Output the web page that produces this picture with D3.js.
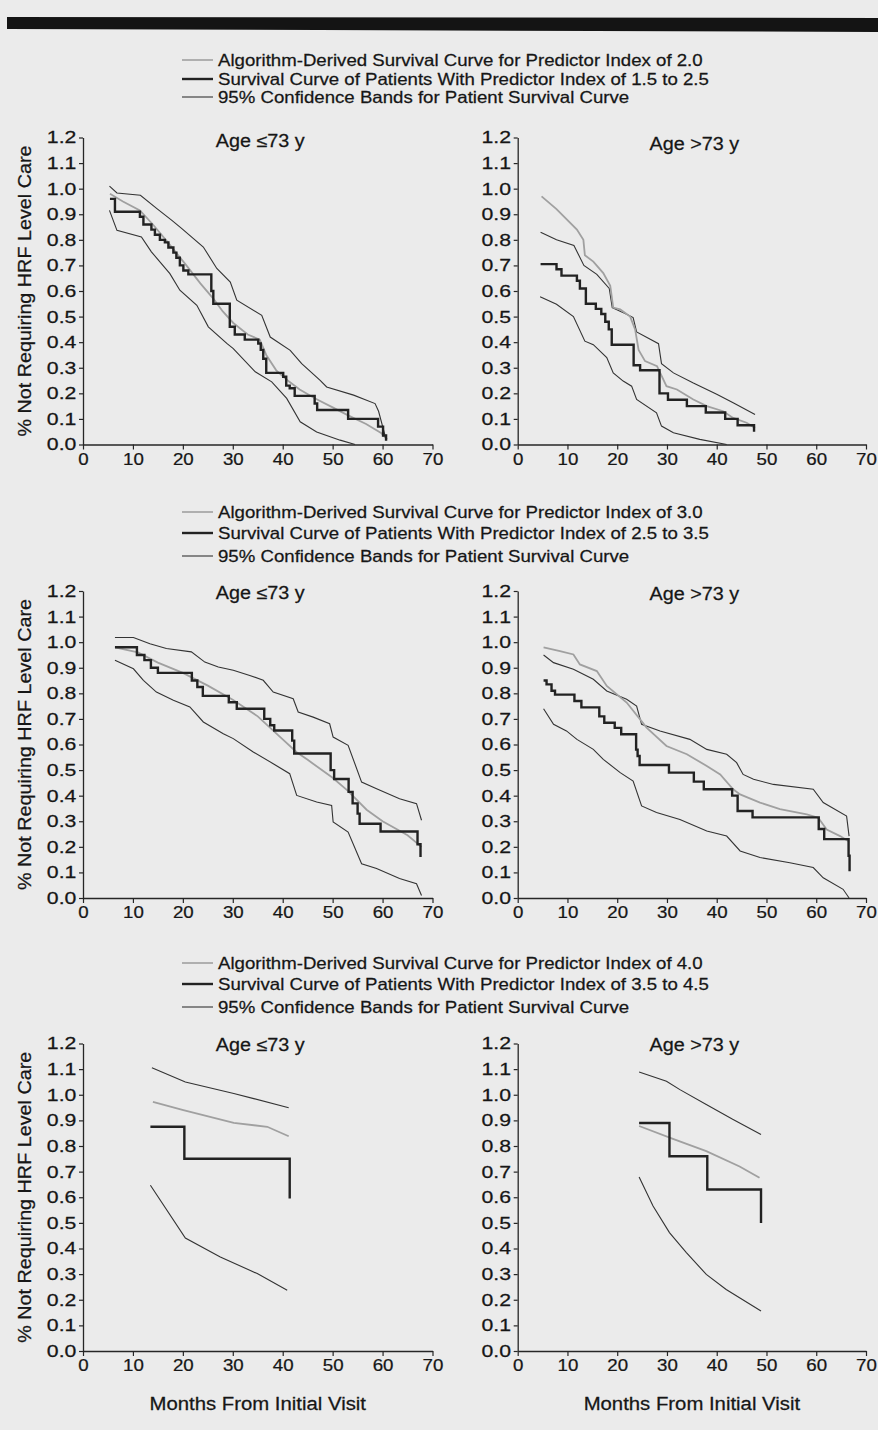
<!DOCTYPE html>
<html>
<head>
<meta charset="utf-8">
<script src="https://cdn.jsdelivr.net/npm/d3@7/dist/d3.min.js"></script>
<style>
  body { margin: 0; background: #ebebeb; }
  svg { display: block; }
  text { font-family: "Liberation Sans", Arial, Helvetica, sans-serif; fill: #161616; stroke: #161616; stroke-width: 0.25px; }
</style>
</head>
<body>
<script>
// ---- data: [months, fraction not requiring HRF care] ----
var xTicks = [0, 10, 20, 30, 40, 50, 60, 70];
var yTicks = [0, 0.1, 0.2, 0.3, 0.4, 0.5, 0.6, 0.7, 0.8, 0.9, 1.0, 1.1, 1.2];
var ageGroups = ['Age \u226473 y', 'Age >73 y'];
var predictorIndex = ['2.0', '3.0', '4.0'];
var predictorRange = ['1.5 to 2.5', '2.5 to 3.5', '3.5 to 4.5'];

// index 2.0, age <=73
var alg20Young = [[5.4,0.98],[8,0.95],[11.4,0.915],[14,0.86],[17,0.79],[20.7,0.70],[23.5,0.63],[26.1,0.57],[28,0.52],[30.1,0.475],[33,0.43],[35.4,0.41],[36.7,0.35],[38.7,0.29],[41,0.25],[43.4,0.215],[46.5,0.18],[50,0.145],[53,0.115],[56.7,0.08],[59.7,0.045],[60.9,0.02]];
var km20Young = [[5.4,0.96],[6.4,0.91],[11.4,0.89],[12.1,0.86],[13.7,0.84],[14.4,0.82],[15.4,0.80],[16.4,0.79],[17.1,0.77],[18.1,0.75],[18.7,0.73],[19.4,0.70],[20.1,0.68],[21.1,0.665],[25.7,0.60],[26.1,0.55],[29.4,0.46],[30.4,0.43],[32.4,0.41],[35.1,0.395],[35.6,0.37],[36.1,0.335],[36.7,0.28],[40.1,0.265],[40.7,0.23],[41.4,0.22],[42.4,0.19],[46.4,0.16],[46.9,0.135],[53.1,0.10],[59.1,0.07],[60.1,0.035],[60.7,0.015]];
var hi20Young = [[5.3,1.01],[6.8,0.983],[11.5,0.974],[14.8,0.922],[17.8,0.876],[19.8,0.844],[24.1,0.772],[26.8,0.688],[29.5,0.635],[30.8,0.564],[35.8,0.505],[37.5,0.42],[41.5,0.368],[43.8,0.316],[47.5,0.251],[48.8,0.225],[54.2,0.193],[58.5,0.16],[59.2,0.13],[60.7,0.02]];
var lo20Young = [[5.3,0.915],[6.8,0.837],[11.7,0.811],[13.7,0.753],[17.4,0.668],[19.4,0.603],[22.8,0.544],[25.1,0.46],[28.8,0.395],[30.1,0.375],[34.5,0.284],[37.8,0.245],[40.8,0.18],[43.5,0.089],[46.8,0.049],[51.5,0.017],[54.5,0]];

// index 2.0, age >73
var alg20Old = [[4.8,0.97],[7.8,0.92],[11.9,0.84],[13.2,0.80],[13.5,0.74],[15.2,0.715],[17.2,0.67],[18.6,0.62],[19.2,0.535],[20.6,0.528],[22.6,0.50],[23.6,0.45],[24.3,0.37],[25.6,0.326],[28,0.306],[29.9,0.228],[32,0.215],[35.3,0.176],[38,0.15],[41.3,0.13],[43.3,0.104],[46,0.085],[47.7,0.065]];
var km20Old = [[4.6,0.705],[7.8,0.685],[8.8,0.66],[11.9,0.64],[12.5,0.61],[13.7,0.55],[15.7,0.53],[16.8,0.51],[17.6,0.48],[18.3,0.45],[18.9,0.39],[23.3,0.31],[24.6,0.29],[28.5,0.20],[30.2,0.175],[34,0.15],[37.8,0.125],[41.7,0.10],[44.2,0.075],[47.5,0.05]];
var hi20Old = [[4.6,0.83],[7.8,0.80],[11.3,0.778],[13.3,0.70],[15.9,0.665],[18.4,0.61],[19,0.535],[21.9,0.509],[23.2,0.496],[23.9,0.44],[28.3,0.394],[28.9,0.316],[31.3,0.28],[35.3,0.24],[40,0.196],[43.3,0.163],[47.7,0.117]];
var lo20Old = [[4.5,0.578],[7.8,0.548],[11.2,0.50],[13.5,0.404],[15.2,0.39],[17.9,0.34],[19.2,0.28],[21.2,0.248],[22.9,0.228],[23.9,0.176],[27.9,0.124],[28.9,0.072],[31.3,0.046],[36.6,0.02],[42,0]];

// index 3.0, age <=73
var alg30Young = [[6.4,0.98],[11,0.96],[15,0.92],[20,0.88],[25,0.83],[30,0.775],[35,0.71],[40,0.62],[42.8,0.57],[45,0.54],[50,0.47],[53,0.42],[56.8,0.345],[60,0.30],[65,0.245],[67.8,0.20]];
var km30Young = [[6.4,0.98],[10.8,0.95],[12.3,0.93],[13.6,0.90],[15,0.88],[21.8,0.85],[22.9,0.825],[24,0.79],[29.2,0.765],[30.8,0.74],[36.3,0.70],[37.5,0.675],[38.3,0.655],[41.9,0.615],[42.3,0.565],[49.6,0.50],[50.3,0.465],[53.2,0.415],[54,0.37],[55,0.33],[55.4,0.29],[59.6,0.26],[67,0.21],[67.6,0.16]];
var hi30Young = [[6.4,1.018],[10.1,1.018],[13.4,0.994],[16.7,0.975],[21.7,0.962],[24.4,0.922],[27.1,0.903],[30.1,0.89],[33.4,0.87],[36.1,0.851],[38.1,0.805],[42.1,0.779],[43.1,0.727],[46.1,0.707],[49.4,0.681],[50.1,0.629],[53.1,0.597],[55.8,0.453],[58.8,0.427],[63.4,0.388],[66.8,0.369],[67.8,0.304]];
var lo30Young = [[6.4,0.929],[10.1,0.896],[12.1,0.851],[14.7,0.805],[18.1,0.773],[21.4,0.747],[24.1,0.688],[28.1,0.642],[30.1,0.623],[34.1,0.571],[38.1,0.525],[41.4,0.486],[42.8,0.401],[46.8,0.375],[49.8,0.362],[50.1,0.297],[53.1,0.258],[55.8,0.134],[58.8,0.115],[63.4,0.076],[66.8,0.056],[67.8,0.01]];

// index 3.0, age >73
var alg30Old = [[5.2,0.98],[8.5,0.965],[11.2,0.952],[12.5,0.913],[15.9,0.887],[17.9,0.829],[21.9,0.764],[24.6,0.698],[25.9,0.666],[29.9,0.594],[34,0.562],[38,0.516],[40.7,0.483],[43.3,0.425],[44.7,0.405],[48.7,0.373],[52.7,0.347],[58.1,0.327],[60.4,0.314],[62.1,0.268],[64.8,0.242],[66.4,0.223]];
var km30Old = [[5.2,0.85],[5.8,0.835],[6.8,0.81],[7.5,0.795],[11.4,0.77],[12.8,0.745],[16.4,0.71],[17.4,0.685],[19.5,0.665],[20.8,0.64],[23.8,0.58],[24.1,0.555],[24.5,0.52],[30.4,0.49],[35.4,0.455],[37.4,0.425],[43.1,0.40],[44.2,0.34],[47.2,0.315],[60.5,0.27],[61.6,0.23],[66.5,0.165],[66.7,0.105]];
var hi30Old = [[5.2,0.95],[7.2,0.92],[11.2,0.894],[15.2,0.855],[17.9,0.809],[21.9,0.777],[23.9,0.75],[24.9,0.679],[28.6,0.653],[34.6,0.62],[38,0.581],[42,0.562],[44,0.529],[45.3,0.483],[47.4,0.464],[51.4,0.444],[59.4,0.425],[61.4,0.373],[66.1,0.32],[66.6,0.242]];
var lo30Old = [[5.2,0.74],[7.2,0.679],[9.8,0.653],[11.9,0.62],[15.2,0.581],[17.2,0.542],[20.6,0.49],[23.2,0.457],[24.9,0.36],[27.9,0.334],[32.6,0.307],[38,0.262],[42,0.242],[44.7,0.184],[48.7,0.158],[54.7,0.138],[59.4,0.119],[61.4,0.079],[65.4,0.034],[66.6,0]];

// index 4.0, age <=73
var alg40Young = [[14,0.972],[20.1,0.94],[30.2,0.89],[36.9,0.875],[41.2,0.838]];
var km40Young = [[13.5,0.875],[20.3,0.75],[41.4,0.595]];
var hi40Young = [[13.8,1.105],[20.5,1.05],[30.2,1.005],[34.2,0.985],[41.2,0.949]];
var lo40Young = [[13.5,0.647],[20.5,0.441],[27.5,0.367],[34.9,0.302],[40.9,0.237]];

// index 4.0, age >73
var alg40Old = [[24.4,0.878],[31.2,0.828],[37.9,0.78],[44.6,0.72],[48.6,0.676]];
var km40Old = [[24.4,0.89],[30.5,0.76],[38.1,0.63],[48.9,0.50]];
var hi40Old = [[24.4,1.089],[29.9,1.053],[32.6,1.02],[37.9,0.962],[43.2,0.904],[48.9,0.845]];
var lo40Old = [[24.4,0.679],[27.2,0.566],[30.5,0.462],[33.9,0.384],[37.9,0.299],[41.9,0.24],[48.9,0.156]];

var panels = [
  [{ alg: alg20Young, km: km20Young, hi: hi20Young, lo: lo20Young }, { alg: alg20Old, km: km20Old, hi: hi20Old, lo: lo20Old }],
  [{ alg: alg30Young, km: km30Young, hi: hi30Young, lo: lo30Young }, { alg: alg30Old, km: km30Old, hi: hi30Old, lo: lo30Old }],
  [{ alg: alg40Young, km: km40Young, hi: hi40Young, lo: lo40Young }, { alg: alg40Old, km: km40Old, hi: hi40Old, lo: lo40Old }]
];

// ---- layout ----
var width = 878, height = 1430;
var stretch = 1.13;   // the scanned type is a little wider than Arial
var cols = [[83, 432.5], [517.7, 866]];
var rows = [
  { top: 137.5, bottom: 444.5, legend: [66, 85, 103] },
  { top: 591, bottom: 898, legend: [518, 539, 562] },
  { top: 1043.5, bottom: 1351, legend: [969, 990, 1013] }
];
var titleOffset = [[9, 12], [7.5, 8.5], [7, 7.5]];

var svg = d3.select('body')
  .append('svg')
  .attr('width', width)
  .attr('height', height);

svg.append('rect')
  .attr('width', width)
  .attr('height', height)
  .attr('fill', '#ebebeb');

// black rule across the top of the page
svg.append('path')
  .attr('d', 'M7,17 L878,18 L878,32 L7,29 Z')
  .attr('fill', '#141414');

function label(g, x, y, str, size, anchor, rotate) {
  return g.append('text')
    .attr('transform', 'translate(' + x + ',' + y + ')' + (rotate ? ' rotate(-90)' : '') + ' scale(' + stretch + ',1)')
    .attr('text-anchor', anchor || 'start')
    .attr('font-size', size)
    .text(str);
}

rows.forEach(function(row, r) {
  // legend
  var legendText = [
    'Algorithm-Derived Survival Curve for Predictor Index of ' + predictorIndex[r],
    'Survival Curve of Patients With Predictor Index of ' + predictorRange[r],
    '95% Confidence Bands for Patient Survival Curve'
  ];
  var legendStyle = [
    { stroke: '#a0a0a0', width: 1.6 },
    { stroke: '#222', width: 2.4 },
    { stroke: '#333', width: 1.1 }
  ];
  legendText.forEach(function(t, i) {
    var ly = row.legend[i];
    svg.append('line')
      .attr('x1', 182).attr('x2', 213)
      .attr('y1', ly - 6).attr('y2', ly - 6)
      .attr('stroke', legendStyle[i].stroke)
      .attr('stroke-width', legendStyle[i].width);
    label(svg, 218, ly, t, 16.5);
  });

  cols.forEach(function(col, c) {
    var data = panels[r][c];
    var xScale = d3.scaleLinear().domain([0, 70]).range(col);
    var yScale = d3.scaleLinear().domain([0, 1.2]).range([row.bottom, row.top]);
    var g = svg.append('g');

    var xAxis = g.append('g')
      .attr('transform', 'translate(0,' + row.bottom + ')')
      .call(d3.axisBottom(xScale).tickValues(xTicks).tickSize(5).tickSizeOuter(0).tickPadding(3));
    var yAxis = g.append('g')
      .attr('transform', 'translate(' + col[0] + ',0)')
      .call(d3.axisLeft(yScale).tickValues(yTicks).tickFormat(d3.format('.1f')).tickSize(4).tickSizeOuter(0).tickPadding(6));

    [xAxis, yAxis].forEach(function(a) {
      a.select('.domain').attr('stroke', '#262626').attr('stroke-width', 1.3);
      a.selectAll('.tick line').attr('stroke', '#262626').attr('stroke-width', 1.2);
      a.selectAll('.tick text')
        .attr('font-size', 17)
        .attr('font-family', '"Liberation Sans", Arial, sans-serif')
        .attr('fill', '#161616');
    });
    xAxis.selectAll('.tick text').attr('transform', 'scale(1.1,1)');
    yAxis.selectAll('.tick text').attr('transform', 'scale(1.25,1)').attr('x', -5.3);

    var line = d3.line().x((d) => xScale(d[0])).y((d) => yScale(d[1]));
    var step = d3.line().x((d) => xScale(d[0])).y((d) => yScale(d[1])).curve(d3.curveStepAfter);

    g.append('path').datum(data.hi)
      .attr('d', line).attr('fill', 'none').attr('stroke', '#333').attr('stroke-width', 1.1);
    g.append('path').datum(data.lo)
      .attr('d', line).attr('fill', 'none').attr('stroke', '#333').attr('stroke-width', 1.1);
    g.append('path').datum(data.alg)
      .attr('d', line).attr('fill', 'none').attr('stroke', '#a0a0a0').attr('stroke-width', 1.8);
    g.append('path').datum(data.km)
      .attr('d', step).attr('fill', 'none').attr('stroke', '#222').attr('stroke-width', 2.4);

    // panel title
    label(g, xScale(35.5), yScale(1.2) + titleOffset[r][c], ageGroups[c], 17.5, 'middle');

    // y axis title only on the left column
    if (c === 0) {
      label(g, 30.5, (row.top + row.bottom) / 2, '% Not Requiring HRF Level Care', 17.5, 'middle', true);
    }
    // x axis title only on the bottom row
    if (r === rows.length - 1) {
      label(g, xScale(35), 1410, 'Months From Initial Visit', 18, 'middle');
    }
  });
});
</script>
</body>
</html>
